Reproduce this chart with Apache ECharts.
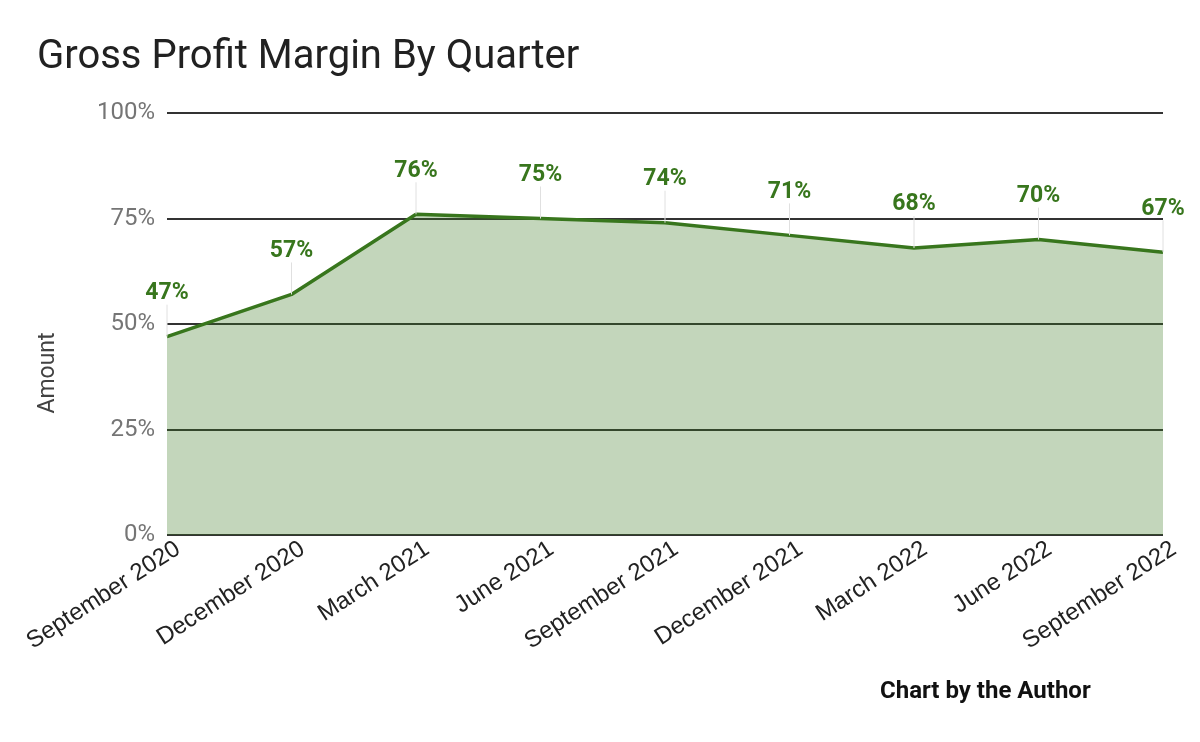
<!DOCTYPE html>
<html>
<head>
<meta charset="utf-8">
<script src="https://cdn.jsdelivr.net/npm/echarts@6/dist/echarts.min.js"></script>
<style>html,body{margin:0;padding:0;background:#fff;}#c{width:1200px;height:742px;}</style>
</head>
<body>
<div id="c"></div>
<script>
const categories = ["September 2020","December 2020","March 2021","June 2021","September 2021","December 2021","March 2022","June 2022","September 2022"];
const margins = [47, 57, 76, 75, 74, 71, 68, 70, 67];
const yTicks = [0, 25, 50, 75, 100];

const chart = echarts.init(document.getElementById('c'), null, {renderer: 'canvas'});
chart.setOption({
  backgroundColor: '#fff',
  animation: false,
  title: {
    text: 'Gross Profit Margin By Quarter',
    left: 32, top: 33,
    textStyle: {fontFamily: 'Roboto', fontSize: 40, fontWeight: 'normal', color: '#212121'}
  },
  grid: [
    {left: 167, right: 37, top: 113, bottom: 207, containLabel: false},
    {left: 178, right: 26, top: 113, bottom: 207, containLabel: false}
  ],
  xAxis: [{
    type: 'category',
    gridIndex: 0,
    data: categories,
    boundaryGap: false,
    axisLine: {show: false},
    axisTick: {show: false},
    axisLabel: {show: false}
  }, {
    type: 'category',
    gridIndex: 1,
    data: categories,
    boundaryGap: false,
    axisLine: {show: false},
    axisTick: {show: false},
    splitLine: {show: false},
    axisLabel: {rotate: 33, fontFamily: 'Liberation Sans', fontSize: 24, color: '#222', margin: 12, interval: 0}
  }],
  yAxis: [{
    type: 'value',
    gridIndex: 0,
    min: yTicks[0], max: yTicks[yTicks.length - 1], interval: 25,
    axisLine: {show: false},
    axisTick: {show: false},
    splitLine: {lineStyle: {color: '#333', width: 2}},
    axisLabel: {formatter: '{value}%', fontFamily: 'Roboto', fontSize: 24, color: '#757575', margin: 12}
  }, {
    type: 'value',
    gridIndex: 1,
    min: yTicks[0], max: yTicks[yTicks.length - 1], interval: 25,
    show: false
  }],
  graphic: [
    {type: 'text', x: 48, y: 373, rotation: Math.PI / 2, style: {text: 'Amount', font: '23px Roboto', fill: '#424242', align: 'center', verticalAlign: 'middle'}},
    {type: 'text', x: 880, y: 680, style: {text: 'Chart by the Author', font: 'bold 24px Roboto', fill: '#111'}}
  ],
  series: [{
    type: 'line',
    xAxisIndex: 0, yAxisIndex: 0,
    data: margins,
    symbol: 'circle',
    symbolSize: 0.01,
    showSymbol: true,
    lineStyle: {color: '#38761d', width: 3.5},
    itemStyle: {color: '#38761d'},
    areaStyle: {color: '#38761d', opacity: 0.3},
    label: {
      show: true, position: 'top', distance: 4,
      formatter: '{c}%', fontFamily: 'Roboto', fontSize: 23, fontWeight: 'bold', color: '#38761d'
    },
    labelLayout: {dy: -28},
    labelLine: {show: true, lineStyle: {color: '#e0e0e0', width: 1}},
    z: 3
  }]
});
</script>
</body>
</html>
